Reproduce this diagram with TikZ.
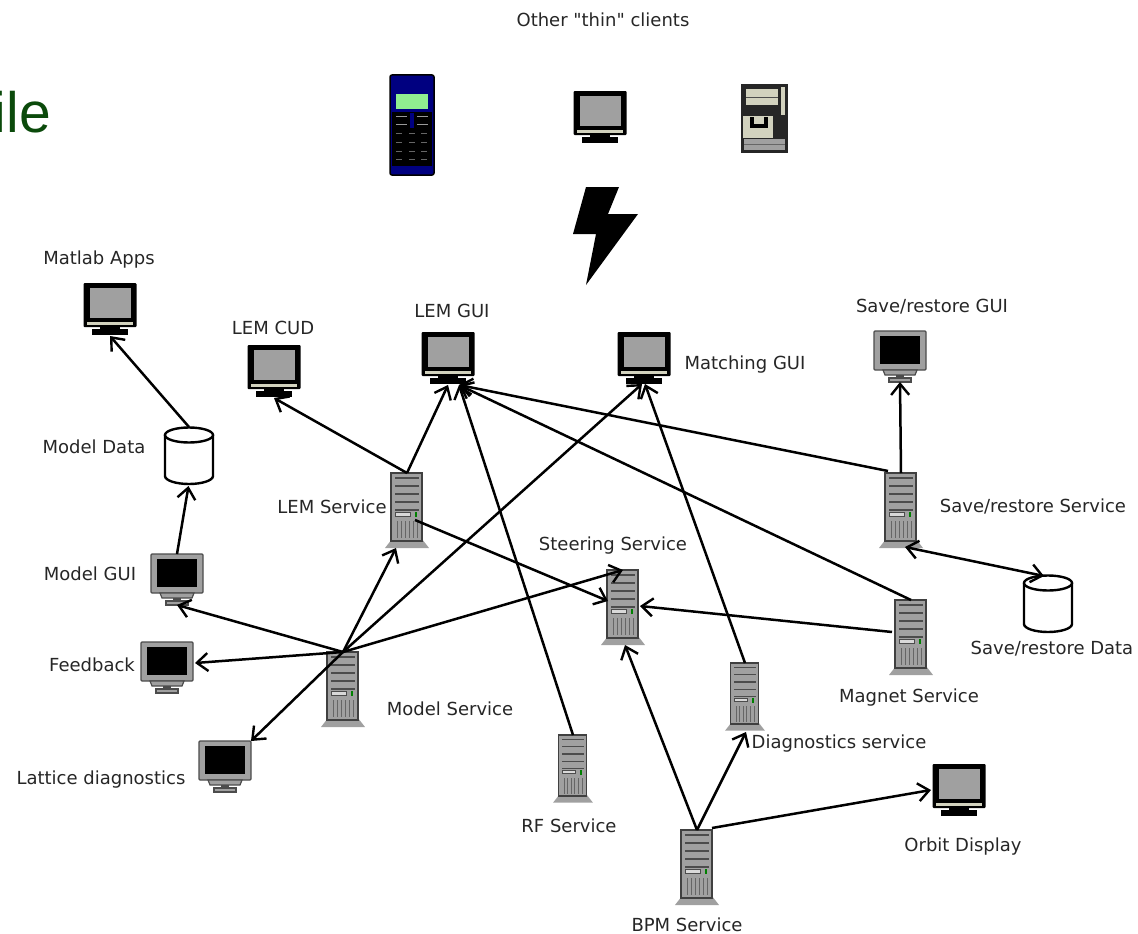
\documentclass[tikz,border=0pt]{standalone}
\usepackage{fontspec}
\setsansfont{Liberation Sans}
\newfontfamily\lblfont{DejaVu Sans}
\usetikzlibrary{arrows.meta}
\definecolor{screengrey}{HTML}{A0A0A0}
\definecolor{beige}{HTML}{D2D2BE}
\definecolor{titlegreen}{HTML}{0B4A0B}
\definecolor{lcdgreen}{HTML}{90EE90}
\tikzset{
  lbl/.style={font=\lblfont\fontsize{18}{20}\selectfont, text=black!85, inner sep=0pt},
  barb/.tip={Straight Barb[length=11pt,width=18pt,line width=2.4pt]},
  conn/.style={line width=2.5pt, -barb},
  crt/.pic={
    \fill[black, rounded corners=1pt] (-26.5,0) rectangle (26.5,44);
    \fill[screengrey] (-20.5,5) rectangle (20.5,35);
    \fill[beige] (-23,39) rectangle (23,41.5);
    \fill[black] (-18,46) rectangle (18,52);
    \fill[black] (-10,44) rectangle (10,46);
    \coordinate (-t) at (0,0);
    \coordinate (-b) at (0,53);
  },
  crtdark/.pic={
    \draw[black!70, fill=screengrey, line width=1.2pt, rounded corners=1pt] (-26,0) rectangle (26,39);
    \fill[black] (-20,5) rectangle (20,33);
    \draw[black!70, fill=screengrey, line width=1.2pt] (-17,39) -- (17,39) -- (15,44) -- (-15,44) -- cycle;
    \draw[black!70, fill=screengrey, line width=1.2pt] (-11,47) rectangle (11,51);
    \fill[black!70] (-4,44) rectangle (4,47);
    \coordinate (-t) at (0,0);
    \coordinate (-b) at (0,51);
  },
  server/.pic={
    \fill[screengrey] (-15,66) -- (15,66) -- (22,75) -- (-22,75) -- cycle;
    \draw[black!75, fill=screengrey, line width=1.5pt] (-16,0) rectangle (15,68);
    \foreach \yb in {5,13,21,29,37} {
      \draw[black!70, line width=1.2pt] (-12,\yb) -- (12,\yb);
    }
    \draw[black!70, fill=black!15, line width=.7pt] (-12,39) rectangle (3,43);
    \fill[green!50!black] (8,39) rectangle (10,44);
    \foreach \xv in {-10,-6,-2,2,6,10} {
      \draw[black!60, line width=1pt] (\xv,48) -- (\xv,65);
    }
    \coordinate (-t) at (0,0);
    \coordinate (-b) at (0,75);
  },
  dbase/.pic={
    \draw[black, fill=white, line width=2.4pt] (-24,8) -- (-24,49) arc[start angle=180, end angle=360, x radius=24, y radius=-8] -- (24,8);
    \draw[black, fill=white, line width=2.4pt] (0,8) ellipse[x radius=24, y radius=7.5];
    \coordinate (-t) at (0,0);
    \coordinate (-b) at (0,58);
  }
}
\begin{document}
\begin{tikzpicture}[x=1pt,y=-1pt]
  \useasboundingbox (0,0) rectangle (1138,934);
  \node[inner sep=0pt, anchor=base west, text=titlegreen, font=\sffamily\fontsize{57}{64}\selectfont] (title) at (-6.5,132) {ile};

  % thin clients
  \draw[black, fill=blue!50!black, line width=1.5pt, rounded corners=2pt] (390,75) rectangle (434,175);
  \fill[black] (392,112) rectangle (432,166);
  \fill[lcdgreen] (396,94) rectangle (428,109);
  \fill[blue!50!black] (410,113) rectangle (414,128);
  \foreach \yk in {116,124} {
    \draw[black!40, line width=1pt] (396,\yk) -- (407,\yk) (417,\yk) -- (428,\yk);
  }
  \foreach \yk in {133,142,151,159} {
    \foreach \xk in {399,412,424} {
      \draw[black!60, line width=1pt] (\xk-3,\yk) -- (\xk+3,\yk);
    }
  }
  \pic (other) at (600,91) {crt};
  \fill[black!85] (741,84) rectangle (788,153);
  \fill[beige] (746,89) rectangle (778,105);
  \draw[black!70, line width=1pt] (746,97) -- (778,97);
  \fill[beige] (781,87) rectangle (785,115);
  \fill[beige] (743,116) rectangle (773,138);
  \fill[black] (750,117) rectangle (768,128);
  \fill[beige] (754,117) rectangle (764,124);
  \fill[screengrey] (744,139) rectangle (785,150);
  \draw[black!60, line width=1pt] (744,144) -- (785,144);
  \fill[black] (586,187) -- (619,187) -- (608,214) -- (638,214) -- (586,285) -- (596,234) -- (573,234) -- cycle;

  \pic (matlab) at (110,283) {crt};
  \pic (lemcud) at (274,345) {crt};
  \pic (lemgui) at (448,332) {crt};
  \pic (matching) at (644,332) {crt};
  \pic (orbit) at (959,764) {crt};
  \pic (savegui) at (900,331) {crtdark};
  \pic (modelgui) at (177,554) {crtdark};
  \pic (feedback) at (167,642) {crtdark};
  \pic (lattice) at (225,741) {crtdark};
  \pic (lemsrv) at (407,473) {server};
  \pic (savesrv) at (901,473) {server};
  \pic (steer) at (623,570) {server};
  \pic (magnet) at (911,600) {server};
  \pic (modelsrv) at (343,652) {server};
  \pic[scale=.9] (diag) at (745,663) {server};
  \pic[scale=.9] (rf) at (573,735) {server};
  \pic (bpm) at (697,830) {server};
  \pic (modeldata) at (189,427) {dbase};
  \pic (savedata) at (1048,575) {dbase};

  \coordinate (lemgui-r) at (459,385);
  \coordinate (matching-l) at (642,384);
  \coordinate (matching-m) at (645,384);
  \coordinate (feedback-r) at (195,663);
  \coordinate (lattice-r) at (251,741);
  \coordinate (lemsrv-d) at (396,548);
  \coordinate (lemsrv-r) at (415,520);
  \coordinate (steer-l) at (608,601);
  \coordinate (steer-r) at (640,606);
  \coordinate (steer-d) at (625,645);
  \coordinate (magnet-l) at (892,632);
  \coordinate (savesrv-l) at (888,471);
  \coordinate (savesrv-d) at (905,547);
  \coordinate (savedata-l) at (1044,576);
  \coordinate (bpm-r) at (712,828);
  \coordinate (orbit-l) at (931,790);
  \coordinate (diag-d) at (746,732);
  \coordinate (modeldata-d) at (188.5,486);

  \draw[conn] (modeldata-t) -- (matlab-b);
  \draw[conn] (modelgui-t) -- (modeldata-d);
  \draw[conn] (lemsrv-t) -- (lemcud-b);
  \draw[conn] (lemsrv-t) -- (lemgui-b);
  \draw[conn] (lemsrv-r) -- (steer-l);
  \draw[conn] (modelsrv-t) -- (modelgui-b);
  \draw[conn] (modelsrv-t) -- (feedback-r);
  \draw[conn] (modelsrv-t) -- (lattice-r);
  \draw[conn] (modelsrv-t) -- (lemsrv-d);
  \draw[conn] (modelsrv-t) -- (matching-l);
  \draw[conn] (modelsrv-t) -- (steer-t);
  \draw[conn] (magnet-l) -- (steer-r);
  \draw[conn] (magnet-t) -- (lemgui-r);
  \draw[conn] (savesrv-l) -- (lemgui-r);
  \draw[conn] (savesrv-t) -- (savegui-b);
  \draw[conn, barb-barb] (savesrv-d) -- (savedata-l);
  \draw[conn] (rf-t) -- (lemgui-r);
  \draw[conn] (diag-t) -- (matching-m);
  \draw[conn] (bpm-t) -- (steer-d);
  \draw[conn] (bpm-t) -- (diag-d);
  \draw[conn] (bpm-r) -- (orbit-l);

  \node[lbl] (lblother) at (603,20) {Other "thin" clients};
  \node[lbl] (lblmatlab) at (99,260) {Matlab Apps};
  \node[lbl] (lbllemcud) at (273,328) {LEM CUD};
  \node[lbl] (lbllemgui) at (452,311) {LEM GUI};
  \node[lbl] (lblmatching) at (745,365) {Matching GUI};
  \node[lbl] (lblsavegui) at (932,307) {Save/restore GUI};
  \node[lbl] (lblmodeldata) at (94,447) {Model Data};
  \node[lbl] (lbllemsrv) at (332,507) {LEM Service};
  \node[lbl] (lblsteer) at (613,546) {Steering Service};
  \node[lbl] (lblsavesrv) at (1033,506) {Save/restore Service};
  \node[lbl] (lblmodelgui) at (90,574) {Model GUI};
  \node[lbl] (lblfeedback) at (92,665) {Feedback};
  \node[lbl] (lblsavedata) at (1052,649) {Save/restore Data};
  \node[lbl] (lblmagnet) at (909,698) {Magnet Service};
  \node[lbl] (lblmodelsrv) at (450,709) {Model Service};
  \node[lbl] (lbldiag) at (839,744) {Diagnostics service};
  \node[lbl] (lbllattice) at (101,780) {Lattice diagnostics};
  \node[lbl] (lblrf) at (569,826) {RF Service};
  \node[lbl] (lblorbit) at (963,847) {Orbit Display};
  \node[lbl] (lblbpm) at (687,925) {BPM Service};
\end{tikzpicture}
\end{document}
